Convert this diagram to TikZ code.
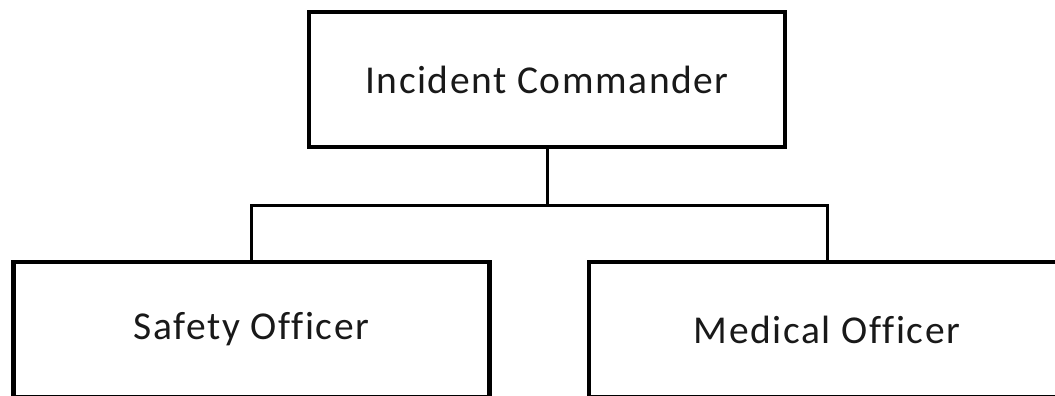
\documentclass[tikz,border=0pt]{standalone}
\usepackage{fontspec}
\setmainfont{Carlito}[LetterSpace=4,Ligatures=NoCommon]
\begin{document}
\begin{tikzpicture}[x=1pt,y=-1pt,
  orgbox/.style={draw=black,line width=4.5pt,fill=white,minimum width=476pt,minimum height=135pt,inner sep=0pt,font=\fontsize{39.5}{44}\selectfont,text=black!90},
  link/.style={draw=black,line width=3pt}]
\useasboundingbox (0,0) rectangle (1055,396);
\clip (0,0) rectangle (1055,396);
\node[orgbox] (ic) at (547,79.5) {Incident Commander};
\node[orgbox] (so) at (251.5,329.5) {Safety Officer};
\node[orgbox] (mo) at (827,329.5) {Medical Officer};
\coordinate (j) at (547,205);
\draw[link] (ic.south) -- (j);
\draw[link] (so.north) |- (j) -| (mo.north);
\end{tikzpicture}
\end{document}
